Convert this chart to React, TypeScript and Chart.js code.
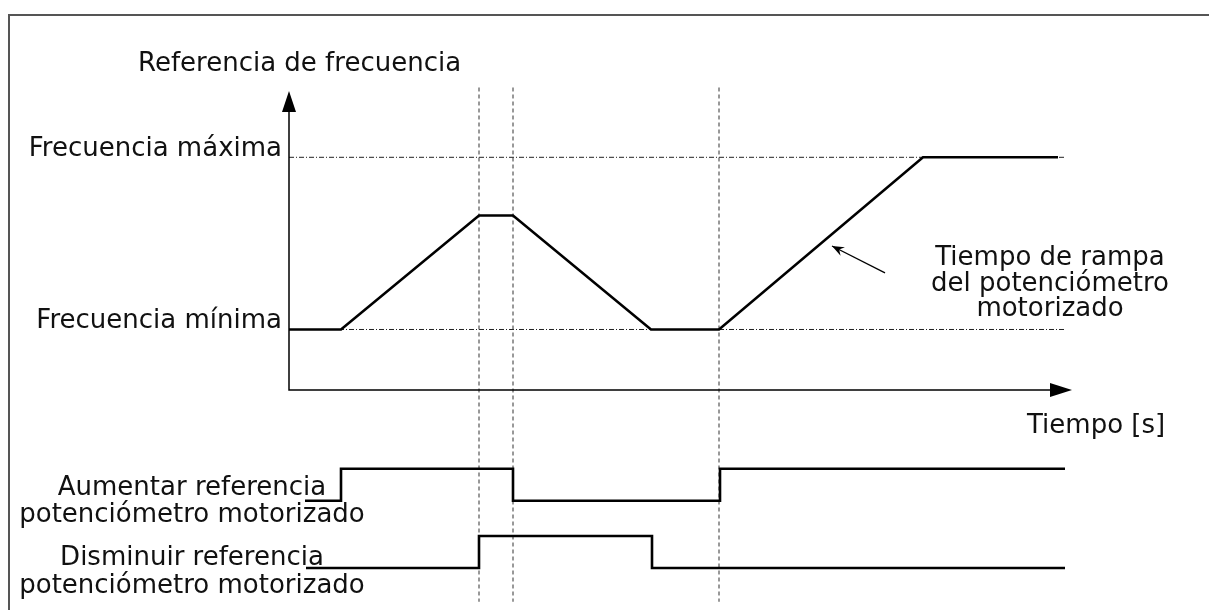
import React, { useEffect, useRef } from "react";
import { Chart, registerables } from "chart.js";

Chart.register(...registerables);

// ---- data (time in arbitrary units, frequency in % of max) ----
const freqTimes = [0, 52, 190, 224, 362, 430, 634, 769];
const freqValues = [26, 26, 75, 75, 26, 26, 100, 100];
const refLevels = [26, 100]; // Frecuencia mínima, Frecuencia máxima
const refLineEnd = 776;
const eventTimes = [190, 224, 430];
const eventSpan = [130, -91];
const incTimes = [16, 52, 52, 224, 224, 431, 431, 776];
const incLevels = [0, 0, 1, 1, 0, 0, 1, 1];
const decTimes = [17, 190, 190, 363, 363, 776];
const decLevels = [0, 0, 1, 1, 0, 0];
const incOffset = 2.1;
const decOffset = 0;
const rampArrowT = [596, 543];
const rampArrowF = [50.3, 61.9];
const xAxisEnd = 783;
const yAxisEnd = 128.5;

const labelFreqAxis = "Referencia de frecuencia";
const labelMax = "Frecuencia máxima";
const labelMin = "Frecuencia mínima";
const labelTime = "Tiempo [s]";
const labelRamp = ["Tiempo de rampa", "del potenciómetro", "motorizado"];
const labelInc = ["Aumentar referencia", "potenciómetro motorizado"];
const labelDec = ["Disminuir referencia", "potenciómetro motorizado"];

const W = 1209;
const H = 610;
const FONT = '26px "DejaVu Sans"';

const diagramPlugin = {
  id: "diagram",
  afterDatasetsDraw(chart: any) {
    const ctx = chart.ctx as CanvasRenderingContext2D;
    const sx = chart.scales.x;
    const sf = chart.scales.yF;
    const X = (v: number) => sx.getPixelForValue(v);
    const F = (v: number) => sf.getPixelForValue(v);
    ctx.save();

    // frame
    ctx.strokeStyle = "#555";
    ctx.lineWidth = 2;
    ctx.strokeRect(9, 15, W + 40, H + 40);

    // axes
    ctx.strokeStyle = "#000";
    ctx.fillStyle = "#000";
    ctx.lineWidth = 1.5;
    const ox = X(0), oy = F(0);
    const xe = X(xAxisEnd), ye = F(yAxisEnd);
    ctx.beginPath();
    ctx.moveTo(ox, ye + 20);
    ctx.lineTo(ox, oy);
    ctx.lineTo(xe - 21, oy);
    ctx.stroke();
    ctx.beginPath();
    ctx.moveTo(ox, ye);
    ctx.lineTo(ox - 7, ye + 21);
    ctx.lineTo(ox + 7, ye + 21);
    ctx.closePath();
    ctx.fill();
    ctx.beginPath();
    ctx.moveTo(xe, oy);
    ctx.lineTo(xe - 22, oy - 7);
    ctx.lineTo(xe - 22, oy + 7);
    ctx.closePath();
    ctx.fill();

    // ramp annotation arrow
    const tx = X(rampArrowT[0]), ty = F(rampArrowF[0]);
    const hx = X(rampArrowT[1]), hy = F(rampArrowF[1]);
    ctx.lineWidth = 1.3;
    ctx.beginPath();
    ctx.moveTo(tx, ty);
    ctx.lineTo(hx, hy);
    ctx.stroke();
    const ang = Math.atan2(hy - ty, hx - tx);
    const L = 13, a = 0.38;
    ctx.beginPath();
    ctx.moveTo(hx, hy);
    ctx.lineTo(hx - L * Math.cos(ang - a), hy - L * Math.sin(ang - a));
    ctx.lineTo(hx - 8 * Math.cos(ang), hy - 8 * Math.sin(ang));
    ctx.lineTo(hx - L * Math.cos(ang + a), hy - L * Math.sin(ang + a));
    ctx.closePath();
    ctx.fill();

    // texts
    ctx.font = FONT;
    ctx.fillStyle = "#111";
    ctx.textBaseline = "alphabetic";
    ctx.textAlign = "left";
    ctx.fillText(labelFreqAxis, 138, 71);
    ctx.fillText(labelTime, 1027, 433);
    ctx.textAlign = "right";
    ctx.fillText(labelMax, ox - 7, F(refLevels[1]) - 1);
    ctx.fillText(labelMin, ox - 7, F(refLevels[0]) - 1);
    ctx.textAlign = "center";
    const rb = [265, 291, 316];
    labelRamp.forEach((s, i) => ctx.fillText(s, 1050, rb[i]));
    ctx.fillText(labelInc[0], 192, 495);
    ctx.fillText(labelInc[1], 192, 522);
    ctx.fillText(labelDec[0], 192, 565);
    ctx.fillText(labelDec[1], 192, 593);
    ctx.restore();
  },
};

export default function App() {
  const ref = useRef<HTMLCanvasElement | null>(null);
  useEffect(() => {
    if (!ref.current) return;
    const kF = (390 - 157.3) / 100;
    const kS = 32;
    const datasets: any[] = [
      {
        data: freqTimes.map((t, i) => ({ x: t, y: freqValues[i] })),
        yAxisID: "yF",
        borderColor: "#000",
        borderWidth: 2.6,
      },
      {
        data: incTimes.map((t, i) => ({ x: t, y: incLevels[i] + incOffset })),
        yAxisID: "yS",
        borderColor: "#000",
        borderWidth: 2.6,
      },
      {
        data: decTimes.map((t, i) => ({ x: t, y: decLevels[i] + decOffset })),
        yAxisID: "yS",
        borderColor: "#000",
        borderWidth: 2.6,
      },
      ...eventTimes.map((t) => ({
        data: eventSpan.map((f) => ({ x: t, y: f })),
        yAxisID: "yF",
        borderColor: "#333",
        borderWidth: 1,
        borderDash: [4, 3],
      })),
      ...refLevels.map((f) => ({
        data: [
          { x: 0, y: f },
          { x: refLineEnd, y: f },
        ],
        yAxisID: "yF",
        borderColor: "#222",
        borderWidth: 1,
        borderDash: [5, 2, 1, 2],
      })),
    ];
    datasets.forEach((d) => {
      d.pointRadius = 0;
      d.fill = false;
      d.tension = 0;
      d.xAxisID = "x";
    });
    const chart = new Chart(ref.current, {
      type: "line",
      data: { datasets },
      options: {
        animation: false,
        responsive: false,
        devicePixelRatio: 1,
        events: [],
        layout: { padding: 0 },
        plugins: { legend: { display: false }, tooltip: { enabled: false } },
        scales: {
          x: { type: "linear", display: false, min: -289, max: W - 289 },
          yF: {
            type: "linear",
            display: false,
            min: -(H - 390) / kF,
            max: 390 / kF,
          },
          yS: {
            type: "linear",
            display: false,
            min: -(H - 568) / kS,
            max: 568 / kS,
          },
        },
      },
      plugins: [diagramPlugin],
    } as any);
    return () => chart.destroy();
  }, []);
  return (
    <div style={{ position: "absolute", left: 0, top: 0, width: W, height: H, background: "#fff" }}>
      <canvas ref={ref} width={W} height={H} style={{ display: "block" }} />
    </div>
  );
}
